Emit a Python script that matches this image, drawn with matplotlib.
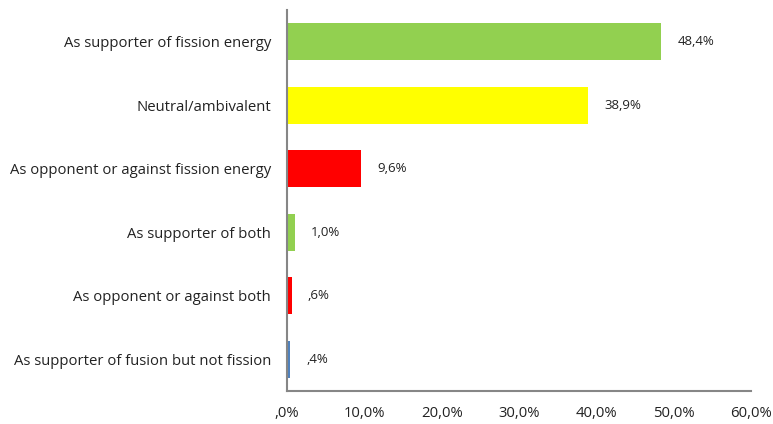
import matplotlib.pyplot as plt
from matplotlib.ticker import FuncFormatter

categories = ["As supporter of fission energy", "Neutral/ambivalent",
              "As opponent or against fission energy", "As supporter of both",
              "As opponent or against both", "As supporter of fusion but not fission"]
values = [48.4, 38.9, 9.6, 1.0, 0.6, 0.4]
colors = ["#92D050", "#FFFF00", "#FF0000", "#92D050", "#FF0000", "#4F81BD"]
xticks = [0, 10, 20, 30, 40, 50, 60]


def pct(v):
    s = "%.1f" % v
    if s.startswith("0"):
        s = s[1:]
    return s.replace(".", ",") + "%"


plt.rcParams['font.family'] = ['Open Sans', 'DejaVu Sans']

fig = plt.figure(figsize=(7.73, 4.24), dpi=100)
ax = fig.add_axes([287 / 773, 1 - 391 / 424, 464 / 773, 381 / 424])

pos = list(range(len(categories)))[::-1]
ax.barh(pos, values, height=0.58, color=colors)
for p, v in zip(pos, values):
    ax.text(v + 2.1, p, pct(v), va="center", ha="left", fontsize=9.5, color="#222222")

ax.set_xlim(0, 60)
ax.set_ylim(-0.5, len(categories) - 0.5)
ax.set_xticks(xticks)
ax.xaxis.set_major_formatter(FuncFormatter(lambda v, _: pct(v)))
ax.set_yticks(pos)
ax.set_yticklabels(categories)
ax.tick_params(axis="x", length=0, pad=10.5, labelsize=10.7, colors="#222222")
ax.tick_params(axis="y", length=0, pad=11.5, labelsize=10.7, colors="#222222")

for s in ["top", "right"]:
    ax.spines[s].set_visible(False)
for s in ["left", "bottom"]:
    ax.spines[s].set_color("#868686")
    ax.spines[s].set_linewidth(1.5)

fig.savefig("out.png", dpi=100)
